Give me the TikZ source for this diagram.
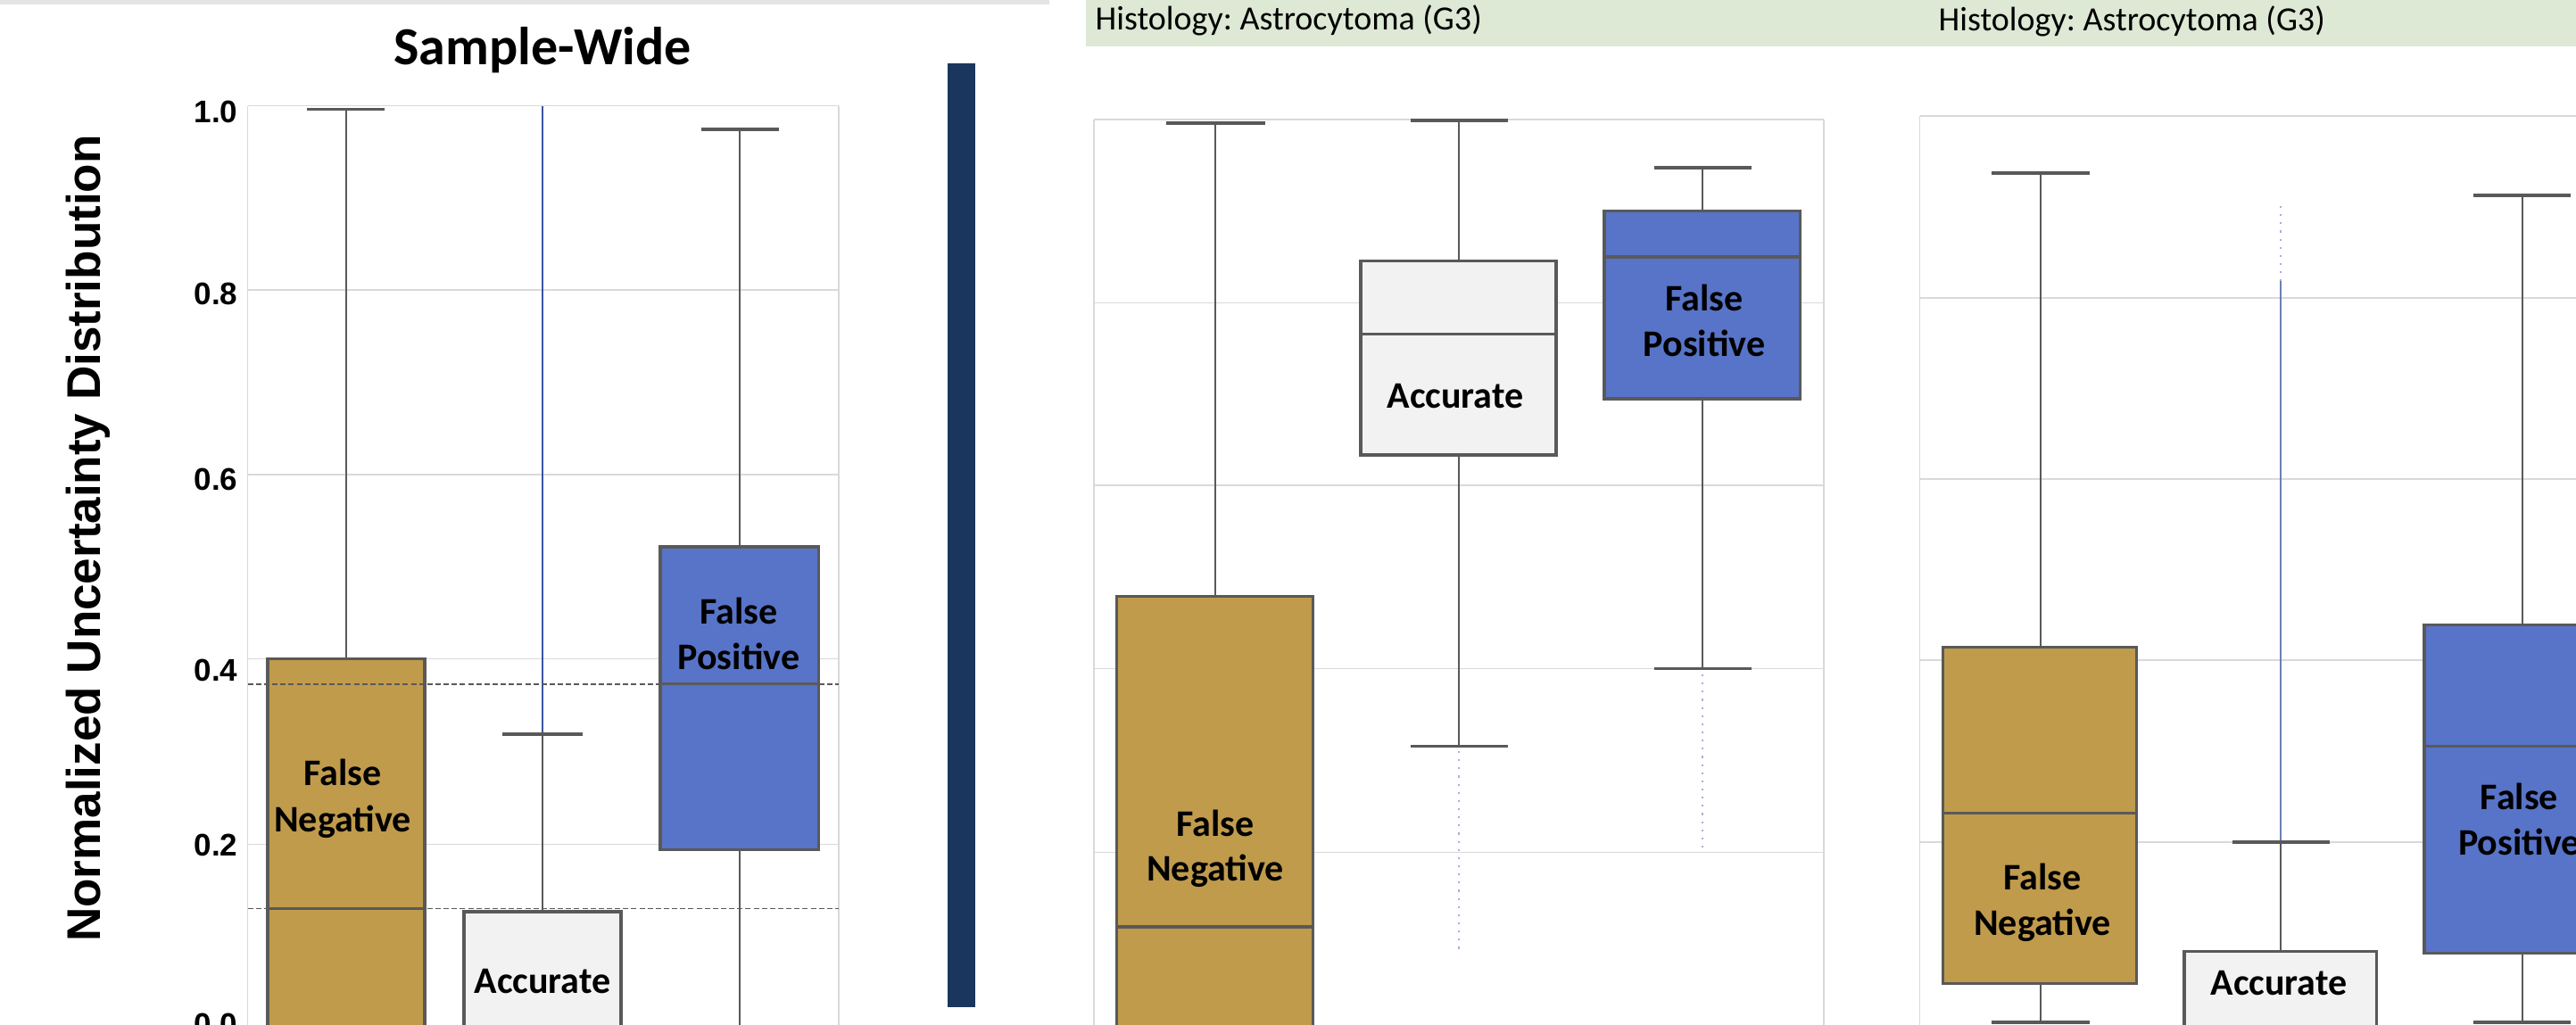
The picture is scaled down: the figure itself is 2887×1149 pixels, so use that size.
\documentclass[tikz,border=0pt]{standalone}
\usepackage{fontspec}
\setmainfont{Carlito}
\newfontfamily\arialf{Liberation Sans}
\frenchspacing
\definecolor{goldc}{HTML}{C09B4C}
\definecolor{fpblue}{HTML}{5874C8}
\definecolor{lightc}{HTML}{F2F2F2}
\definecolor{outc}{HTML}{595959}
\definecolor{gridc}{HTML}{D9D9D9}
\definecolor{navyc}{HTML}{1B365D}
\definecolor{greenband}{HTML}{DDE8D5}
\definecolor{grayband}{HTML}{E4E4E4}
\definecolor{outlierc}{HTML}{3A55A0}
\begin{document}
\begin{tikzpicture}[x=0.01cm,y=-0.01cm,
  gridl/.style={draw=gridc,line width=0.45pt},
  boxo/.style={draw=outc,line width=0.9pt},
  whisk/.style={draw=outc,line width=0.7pt},
  capl/.style={draw=outc,line width=1.05pt},
  medl/.style={draw=outc,line width=1pt},
  refdash/.style={draw=outc,line width=0.55pt,dash pattern=on 1.7pt off 0.9pt},
  outl/.style={draw=outlierc,line width=0.45pt},
  faintdots/.style={draw=outlierc!45,line width=0.4pt,dash pattern=on 0.6pt off 2pt},
  lbl/.style={inner sep=0pt,anchor=base,font=\bfseries\fontsize{11.95pt}{14pt}\selectfont},
  tick/.style={inner sep=0pt,anchor=east,font=\arialf\bfseries\fontsize{9.96pt}{12pt}\selectfont},
  histo/.style={inner sep=0pt,anchor=base west,font=\fontsize{10.81pt}{13pt}\selectfont}
]
\useasboundingbox (0,0) rectangle (2887,1149);
\clip (0,0) rectangle (2887,1149);
\fill[white] (0,0) rectangle (2887,1149);

% ---- top bands
\fill[grayband] (0,0) rectangle (1176,5);
\fill[greenband] (1217,0) rectangle (2887,52);
\node[histo] (h1) at (1227,34) {Histology: Astrocytoma (G3)};
\node[histo] (h2) at (2172,35) {Histology: Astrocytoma (G3)};

% ---- navy separator
\fill[navyc] (1062,71) rectangle (1093,1129);

% ================= Panel 1 : Sample-Wide
\node[inner sep=0pt,anchor=base,font=\bfseries\fontsize{17.07pt}{20pt}\selectfont] (title) at (608,72.7) {Sample-Wide};
\node[inner sep=0pt,anchor=base,rotate=90,font=\arialf\bfseries\fontsize{15.08pt}{18pt}\selectfont] (ylab) at (112,603.5) {Normalized Uncertainty Distribution};

\foreach \yy in {118.6,325,532,738.3,946.7} \draw[gridl] (277.7,\yy) -- (940,\yy);
\draw[gridl] (277.7,118.6) -- (277.7,1160);
\draw[gridl] (940,118.6) -- (940,1160);

\node[tick] (t10) at (267,125.5) {1.0};
\node[tick] (t08) at (267,329) {0.8};
\node[tick] (t06) at (267,537) {0.6};
\node[tick] (t04) at (267,751) {0.4};
\node[tick] (t02) at (267,947) {0.2};
\node[tick] (t00) at (267,1148) {0.0};

% False Negative
\draw[whisk] (388,738.3) -- (388,122.5);
\draw[capl] (344,122.5) -- (431,122.5);
\filldraw[boxo,fill=goldc] (300,738.3) rectangle (476,1170);
\draw[medl] (300,1018.7) -- (476,1018.7);
% Accurate
\draw[outl] (608,823.3) -- (608,118.6);
\draw[whisk] (608,1022) -- (608,823.3);
\draw[capl] (563,823.3) -- (653,823.3);
\filldraw[boxo,fill=lightc] (520,1022) rectangle (696,1170);
% False Positive
\draw[whisk] (829,613) -- (829,144.7);
\draw[capl] (786,144.7) -- (873,144.7);
\draw[whisk] (829,952.3) -- (829,1170);
\filldraw[boxo,fill=fpblue] (740,613) rectangle (917.6,952.3);
\draw[medl] (740,766.6) -- (917.6,766.6);
% reference lines
\draw[refdash] (277.7,766.6) -- (940,766.6);
\draw[refdash] (277.7,1018.5) -- (940,1018.5);

\node[lbl] (p1fn1) at (384,880.4) {False};
\node[lbl] (p1fn2) at (384,932) {Negative};
\node[lbl] (p1fp1) at (828,699) {False};
\node[lbl] (p1fp2) at (828,750.5) {Positive};
\node[lbl] (p1ac) at (608,1113.4) {Accurate};

% ================= Panel 2
\foreach \yy in {134,339.5,544,749.4,955.7} \draw[gridl] (1226,\yy) -- (2044,\yy);
\draw[gridl] (1226,134) -- (1226,1160);
\draw[gridl] (2044,134) -- (2044,1160);

% False Negative
\draw[whisk] (1362,668.4) -- (1362,137.8);
\draw[capl] (1307,137.8) -- (1418,137.8);
\filldraw[boxo,fill=goldc] (1251.5,668.4) rectangle (1471.6,1170);
\draw[medl] (1251.5,1038.9) -- (1471.6,1038.9);
% Accurate
\draw[whisk] (1635,292.8) -- (1635,134.7);
\draw[capl] (1580.6,134.7) -- (1689.7,134.7);
\draw[whisk] (1635,510) -- (1635,836.5);
\draw[capl] (1580.6,836.5) -- (1689.7,836.5);
\draw[faintdots] (1635,842) -- (1635,1069);
\filldraw[boxo,fill=lightc] (1525,292.8) rectangle (1744,510);
\draw[medl] (1525,374.3) -- (1744,374.3);
% False Positive
\draw[whisk] (1908,236.5) -- (1908,188.3);
\draw[capl] (1853.6,188.3) -- (1963.3,188.3);
\draw[whisk] (1908,447) -- (1908,749.4);
\draw[capl] (1853.6,749.4) -- (1963.3,749.4);
\draw[faintdots] (1908,756) -- (1908,951);
\filldraw[boxo,fill=fpblue] (1798,236.5) rectangle (2017.5,447);
\draw[medl] (1798,287.8) -- (2017.5,287.8);

\node[lbl] (p2fn1) at (1362,937.7) {False};
\node[lbl] (p2fn2) at (1362,987.4) {Negative};
\node[lbl] (p2ac) at (1631,457.3) {Accurate};
\node[lbl] (p2fp1) at (1910,348.3) {False};
\node[lbl] (p2fp2) at (1910,400) {Positive};

% ================= Panel 3
\foreach \yy in {130,334,537,740.2,944} \draw[gridl] (2151.6,\yy) -- (2900,\yy);
\draw[gridl] (2151.6,130) -- (2151.6,1160);

% False Negative
\draw[whisk] (2287,725.3) -- (2287,194);
\draw[capl] (2232,194) -- (2341.6,194);
\draw[whisk] (2287,1102.2) -- (2287,1146);
\draw[capl] (2232,1146) -- (2341.6,1146);
\filldraw[boxo,fill=goldc] (2177.6,725.3) rectangle (2394.2,1102.2);
\draw[medl] (2177.6,911.6) -- (2394.2,911.6);
% Accurate
\draw[faintdots] (2556,231) -- (2556,315);
\draw[draw=outlierc!75,line width=0.4pt] (2556,315) -- (2556,944);
\draw[whisk] (2556,1066.6) -- (2556,944);
\draw[capl] (2502,944) -- (2611,944);
\filldraw[boxo,fill=lightc] (2448,1066.6) rectangle (2663.5,1170);
% False Positive
\draw[whisk] (2827,700.4) -- (2827,219);
\draw[capl] (2772,219) -- (2881,219);
\draw[whisk] (2827,1068.6) -- (2827,1146);
\draw[capl] (2772,1146) -- (2881,1146);
\filldraw[boxo,fill=fpblue] (2717,700.4) rectangle (2937,1068.6);
\draw[medl] (2717,836.3) -- (2937,836.3);

\node[lbl] (p3fn1) at (2289,997) {False};
\node[lbl] (p3fn2) at (2289,1048.5) {Negative};
\node[lbl] (p3ac) at (2554,1115.3) {Accurate};
\node[lbl] (p3fp1) at (2823.5,907) {False};
\node[lbl] (p3fp2) at (2823.5,958.7) {Positive};
\end{tikzpicture}
\end{document}
